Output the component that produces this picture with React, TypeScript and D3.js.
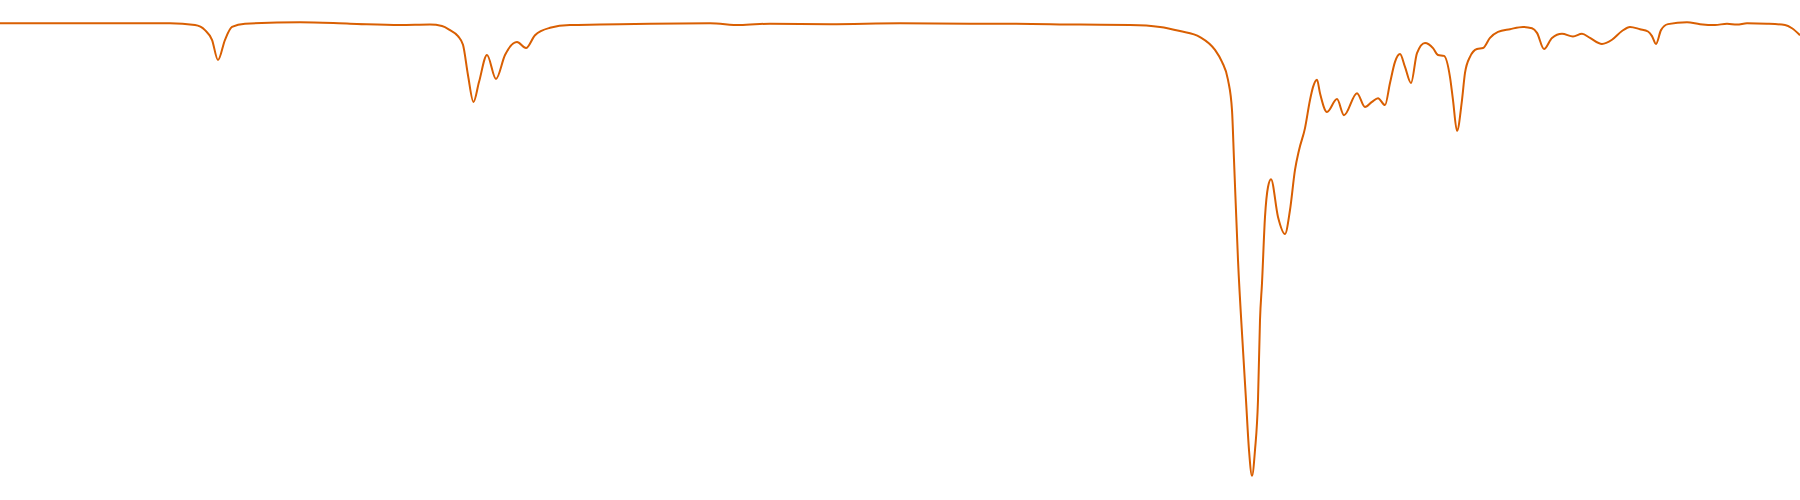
import { useEffect, useRef } from 'react';
import * as d3 from 'd3';

// wavenumber (cm-1), high to low
const wavenumbers = [
  4000, 3800, 3660, 3610, 3590, 3576, 3564, 3550, 3536, 3510, 3400, 3300, 3200, 3140, 3116,
  3100, 3084, 3074, 3064, 3053, 3042, 3026, 3008, 2990, 2966, 2948, 2930, 2900, 2860, 2800,
  2700, 2580, 2520, 2460, 2340, 2200, 2060, 2000, 1840, 1740, 1680, 1640, 1600, 1570, 1556,
  1544, 1536, 1532, 1524, 1514, 1508, 1502, 1496, 1490, 1484, 1480, 1476, 1470, 1464, 1458,
  1444, 1430, 1420, 1410, 1402, 1390, 1380, 1374, 1366, 1360, 1346, 1326, 1312, 1286, 1270,
  1256, 1244, 1230, 1220, 1210, 1200, 1190, 1178, 1166, 1150, 1134, 1124, 1112, 1100, 1094,
  1086, 1076, 1070, 1060, 1046, 1034, 1020, 1004, 980, 954, 936, 926, 912, 896, 876,
  854, 836, 820, 796, 776, 756, 740, 720, 704, 696, 688, 678, 664, 626, 600,
  570, 546, 526, 506, 466, 430, 416, 400,
];

// transmittance (%)
const transmittance = [
  99.3, 99.3, 99.3, 98.9, 97.8, 95.7, 91.3, 95.7, 98.5, 99.2, 99.5, 99.2, 98.9, 99.0, 98.7,
  97.8, 96.5, 94.6, 88.0, 82.2, 86.5, 92.4, 87.2, 92.4, 95.2, 93.9, 96.7, 98.3, 98.9, 99.0,
  99.2, 99.3, 98.9, 99.2, 99.1, 99.3, 99.2, 99.2, 99.0, 98.9, 98.5, 97.6, 96.3, 93.5, 90.9,
  87.0, 80.4, 69.6, 47.8, 28.3, 17.4, 6.5, 0.9, 6.5, 17.4, 34.8, 42.8, 57.2, 63.7, 65.4,
  57.2, 53.5, 58.7, 67.4, 71.7, 76.5, 82.6, 85.4, 87.0, 84.1, 80.0, 82.8, 79.3, 84.1, 81.1,
  82.2, 83.0, 81.5, 86.3, 90.9, 92.6, 89.8, 86.3, 92.8, 95.0, 93.9, 92.4, 92.2, 87.6, 82.6,
  75.9, 82.6, 88.5, 92.0, 93.7, 93.9, 96.1, 97.4, 98.0, 98.5, 98.2, 97.2, 93.7, 96.1, 97.0,
  96.4, 97.0, 96.1, 94.8, 95.7, 97.6, 98.5, 98.0, 97.5, 96.5, 94.8, 97.8, 99.1, 99.5, 99.1,
  98.9, 99.2, 99.0, 99.3, 99.2, 98.9, 98.2, 96.7,
];

const LINE_COLOR = '#d95f02';

export default function App() {
  const svgRef = useRef<SVGSVGElement>(null);
  const width = 1800;
  const height = 500;

  useEffect(() => {
    if (!svgRef.current) return;
    const svg = d3.select(svgRef.current);
    svg.selectAll('*').remove();

    const xScale = d3.scaleLinear().domain([4000, 400]).range([0, width]);
    const yScale = d3.scaleLinear().domain([0, 100]).range([480, 20]);

    const pts: [number, number][] = wavenumbers.map((w, i) => [w, transmittance[i]]);

    const line = d3.line<[number, number]>()
      .x(d => xScale(d[0]))
      .y(d => yScale(d[1]))
      .curve(d3.curveMonotoneX);

    svg.append('path')
      .datum(pts)
      .attr('fill', 'none')
      .attr('stroke', LINE_COLOR)
      .attr('stroke-width', 2)
      .attr('stroke-linejoin', 'round')
      .attr('d', line);
  }, []);

  return (
    <svg
      ref={svgRef}
      width={width}
      height={height}
      style={{ position: 'absolute', left: 0, top: 0, display: 'block' }}
    />
  );
}
